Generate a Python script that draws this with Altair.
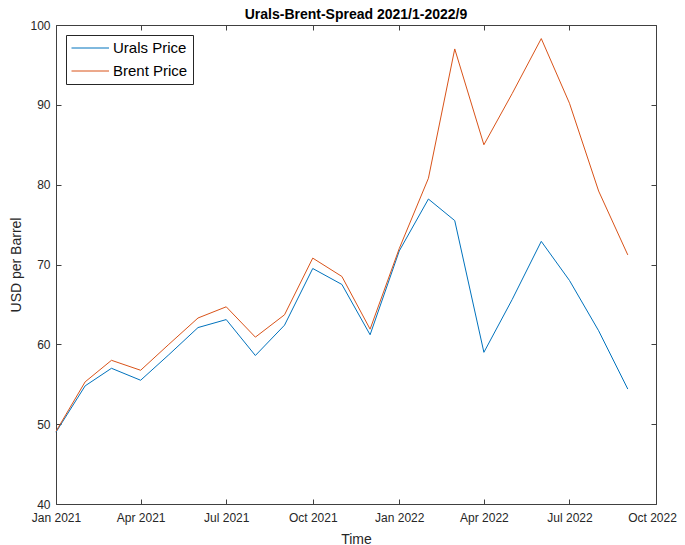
import altair as alt
import pandas as pd

months = ["2021-01-01", "2021-02-01", "2021-03-01", "2021-04-01", "2021-05-01",
          "2021-06-01", "2021-07-01", "2021-08-01", "2021-09-01", "2021-10-01",
          "2021-11-01", "2021-12-01", "2022-01-01", "2022-02-01", "2022-03-01",
          "2022-04-01", "2022-05-01", "2022-06-01", "2022-07-01", "2022-08-01",
          "2022-09-01"]
urals = [49.0, 54.8, 57.0, 55.5, 58.7, 62.1, 63.1, 58.6, 62.4, 69.5, 67.5,
         61.2, 71.7, 78.2, 75.5, 59.0, 65.6, 72.9, 68.0, 61.7, 54.4]
brent = [49.1, 55.3, 58.0, 56.75, 60.0, 63.3, 64.7, 60.9, 63.7, 70.8, 68.5,
         61.9, 72.0, 80.8, 97.0, 85.0, 91.4, 98.3, 90.2, 79.2, 71.2]
series_names = ["Urals Price", "Brent Price"]
series_colors = ["#0072BD", "#D95319"]
x_ticks = ["2021-01-01", "2021-04-01", "2021-07-01", "2021-10-01",
           "2022-01-01", "2022-04-01", "2022-07-01", "2022-10-01"]
y_ticks = [40, 50, 60, 70, 80, 90, 100]

df = pd.DataFrame({
    "Time": months + months,
    "Price": urals + brent,
    "Series": [series_names[0]] * len(months) + [series_names[1]] * len(months),
})


def dt(s):
    y, m, d = (int(v) for v in s.split("-"))
    return alt.DateTime(year=y, month=m, date=d, utc=True)


xvals = [dt(s) for s in x_ticks]
xscale = alt.Scale(type="utc", domain=[dt(x_ticks[0]), dt(x_ticks[-1])], nice=False)
yscale = alt.Scale(domain=[y_ticks[0], y_ticks[-1]], nice=False, zero=False)

W, H = 600, 479
FONT = "Liberation Sans"
FRAME = "#404040"

base = alt.Chart(df)

main = base.mark_line(strokeWidth=1.0).encode(
    x=alt.X("Time:T", scale=xscale,
            axis=alt.Axis(orient="bottom", values=xvals, format="%b %Y",
                          labelFlush=False, labelOverlap=False, labelBound=False,
                          labelOffset={"condition": {"test": "datum.index >= 1", "value": -4},
                                       "value": 0},
                          ticks=False, domain=False, grid=False,
                          labelPadding=8, title="Time", titlePadding=9)),
    y=alt.Y("Price:Q", scale=yscale,
            axis=alt.Axis(orient="left", values=y_ticks, labelFlush=False,
                          labelOverlap=False, ticks=False, domain=False, grid=False,
                          labelPadding=6, title="USD per Barrel", titlePadding=6)),
    color=alt.Color("Series:N",
                    scale=alt.Scale(domain=series_names, range=series_colors),
                    legend=alt.Legend(orient="none", legendX=10, legendY=10, title=None,
                                      symbolType="M-1,0H4", symbolSize=225,
                                      symbolStrokeWidth=1.0, labelFontSize=15,
                                      labelFont=FONT, labelColor="#000",
                                      labelOffset=26, padding=5, rowPadding=7,
                                      strokeColor="#262626", fillColor="white")),
)


def ghost(xorient, yorient):
    return base.mark_line(strokeOpacity=0).encode(
        x=alt.X("Time:T", scale=xscale,
                axis=alt.Axis(orient=xorient, offset=-H, values=xvals, labels=False,
                              ticks=True, tickSize=5, domain=False, grid=False, title=None)),
        y=alt.Y("Price:Q", scale=yscale,
                axis=alt.Axis(orient=yorient, offset=-W, values=y_ticks, labels=False,
                              ticks=True, tickSize=5, domain=False, grid=False, title=None)),
        detail="Series:N",
    )


chart = alt.layer(ghost("top", "right"), ghost("bottom", "left"), main).resolve_axis(
    x="independent", y="independent"
).properties(
    width=W, height=H,
    title=alt.TitleParams("Urals-Brent-Spread 2021/1-2022/9", font=FONT, fontSize=14,
                          fontWeight="bold", color="#000", offset=7, dy=10),
    autosize=alt.AutoSizeParams(type="none"),
    padding={"left": 48, "top": 17, "right": 21, "bottom": 41},
).configure_view(
    stroke=FRAME, strokeWidth=1
).configure_axis(
    labelFont=FONT, titleFont=FONT, labelFontSize=12, titleFontSize=14,
    labelColor="#262626", titleColor="#262626", titleFontWeight="normal",
    tickColor=FRAME, tickWidth=1
)

chart.save("out.html", embed_options={"renderer": "svg", "actions": False})
